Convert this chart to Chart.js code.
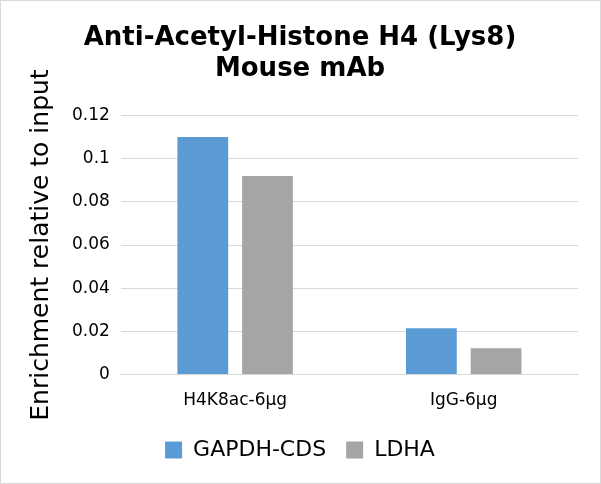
<!DOCTYPE html>
<html>
<head>
<meta charset="utf-8">
<script src="https://cdn.jsdelivr.net/npm/chart.js@4/dist/chart.umd.min.js"></script>
<style>
  html, body { margin: 0; padding: 0; background: #fff; }
  #wrap { width: 599px; height: 482px; border: 1px solid #d9d9d9; position: relative; }
</style>
</head>
<body>
<div id="wrap"><canvas id="myChart"></canvas></div>
<script>
const categories = ["H4K8ac-6μg", "IgG-6μg"];
const gapdhValues = [0.110, 0.0215];
const ldhaValues = [0.092, 0.0122];
const yTicks = [0, 0.02, 0.04, 0.06, 0.08, 0.1, 0.12];

new Chart("myChart", {
  type: "bar",
  data: {
    labels: categories,
    datasets: [{
      label: "GAPDH-CDS",
      backgroundColor: "#5b9bd5",
      data: gapdhValues,
      barPercentage: 0.785,
      categoryPercentage: 0.566
    }, {
      label: "LDHA",
      backgroundColor: "#a5a5a5",
      data: ldhaValues,
      barPercentage: 0.785,
      categoryPercentage: 0.566
    }]
  },
  options: {
    responsive: true,
    maintainAspectRatio: false,
    animation: false,
    layout: { padding: { left: 21, right: 22, top: 12, bottom: 12 } },
    plugins: {
      title: {
        display: true,
        text: ["Anti-Acetyl-Histone H4 (Lys8)", "Mouse mAb"],
        color: "#000",
        font: { family: "DejaVu Sans", size: 26, weight: "bold", lineHeight: 1.22 },
        padding: { top: 9, bottom: 30 }
      },
      legend: {
        position: "bottom",
        labels: {
          color: "#000",
          font: { family: "DejaVu Sans", size: 22 },
          boxWidth: 17,
          boxHeight: 17,
          padding: 20
        }
      },
      tooltip: { enabled: false }
    },
    scales: {
      x: {
        grid: { display: false },
        border: { color: "#d9d9d9" },
        ticks: { color: "#000", font: { family: "DejaVu Sans", size: 17 }, padding: 8 }
      },
      y: {
        min: 0,
        max: 0.12,
        afterBuildTicks: (axis) => { axis.ticks = yTicks.map(v => ({ value: v })); },
        grid: { color: "#d9d9d9", drawTicks: false },
        border: { display: false },
        ticks: {
          color: "#000",
          font: { family: "DejaVu Sans", size: 17 },
          padding: 11,
          callback: (v) => String(+v.toFixed(2))
        },
        title: {
          display: true,
          text: "Enrichment relative to input",
          color: "#000",
          font: { family: "DejaVu Sans", size: 25 },
          padding: { bottom: 5 }
        }
      }
    }
  }
});
</script>
</body>
</html>
